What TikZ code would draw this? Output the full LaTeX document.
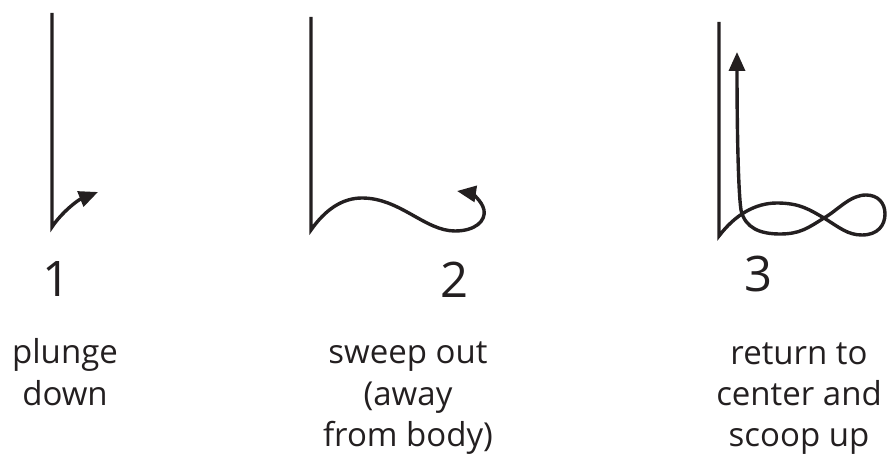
\documentclass[tikz,border=0pt]{standalone}
\usepackage{fontspec}
\setmainfont{Open Sans}
\usetikzlibrary{arrows.meta}
\definecolor{ink}{RGB}{35,31,32}
\tikzset{
  stroke/.style={draw=ink, line width=3.4bp, line join=miter, -{Triangle[length=19bp,width=16bp]}},
  numlabel/.style={font=\fontsize{49bp}{55bp}\selectfont, text=ink, anchor=base, inner sep=0pt},
  txt/.style={font=\fontsize{33bp}{42bp}\selectfont, text=ink, anchor=base, inner sep=0pt}
}
\begin{document}
\begin{tikzpicture}[x=1bp,y=-1bp]
\useasboundingbox (0,0) rectangle (887,456);
% ---- 1: plunge down
\coordinate (a0) at (52,13);
\coordinate (a1) at (52,227);
\coordinate (a2) at (98,192);
\draw[stroke] (a0) -- (a1) .. controls (62,212) and (78,200) .. (a2);
% ---- 2: sweep out
\coordinate (b0) at (311,17);
\coordinate (b1) at (311,230);
\coordinate (b2) at (457,191);
\draw[stroke] (b0) -- (b1)
  .. controls (325,210) and (342,198) .. (362,198)
  .. controls (400,198) and (425,231) .. (455,231)
  .. controls (475,231) and (486,221) .. (484,210)
  .. controls (482,200) and (470,193) .. (b2);
% ---- 3: return and scoop up
\coordinate (c0) at (719,22);
\coordinate (c1) at (719,236);
\coordinate (c2) at (737,52);
\draw[stroke] (c0) -- (c1)
  .. controls (735,215) and (755,203) .. (777,203)
  .. controls (800,203) and (810,210) .. (824,218)
  .. controls (840,228) and (848,235) .. (862,235)
  .. controls (878,235) and (885,225) .. (885,214)
  .. controls (885,203) and (878,195) .. (866,195)
  .. controls (850,195) and (838,210) .. (824,218)
  .. controls (808,228) and (800,234) .. (780,234)
  .. controls (760,234) and (745,228) .. (741,210)
  .. controls (738,190) and (737,120) .. (c2);
% ---- labels
\node[numlabel] (n1) at (57,297) {1};
\node[numlabel] (n2) at (455,298) {2};
\node[numlabel] (n3) at (758,292) {3};
\node[txt] (t1a) at (65,364) {plunge};
\node[txt] (t1b) at (65,405) {down};
\node[txt] (t2a) at (408,364) {sweep out};
\node[txt] (t2b) at (408,405) {(away};
\node[txt] (t2c) at (408,446) {from body)};
\node[txt] (t3a) at (799,365) {return to};
\node[txt] (t3b) at (799,405) {center and};
\node[txt] (t3c) at (799,446) {scoop up};
\end{tikzpicture}
\end{document}
